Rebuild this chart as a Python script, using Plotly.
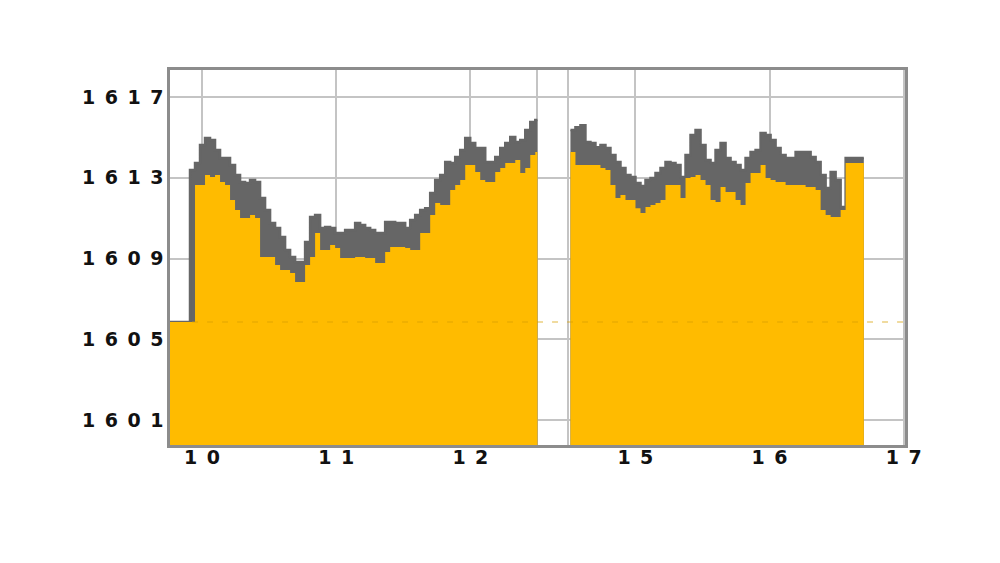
import plotly.graph_objects as go

# ---- data (x in trading-day units: 0 = the "10" tick, 1 day = 1 unit) ----
STEP = 0.0373
LEFT_START = -0.239
LEFT_END = 2.5
RIGHT_START = 2.746
RIGHT_END = 4.933
PREV_CLOSE = 1605.86

high_left = [1605.86, 1605.86, 1605.86, 1605.86, 1613.39, 1613.73, 1614.62, 1614.97, 1614.87, 1614.38,
             1613.98, 1613.98, 1613.63, 1613.14, 1612.79, 1612.74, 1612.89, 1612.79, 1612.00, 1611.41,
             1610.76, 1610.51, 1610.07, 1609.43, 1609.08, 1608.83, 1608.83, 1609.82, 1611.06, 1611.16,
             1610.51, 1610.56, 1610.51, 1610.27, 1610.27, 1610.42, 1610.42, 1610.76, 1610.66, 1610.51,
             1610.42, 1610.27, 1610.27, 1610.81, 1610.81, 1610.76, 1610.76, 1610.51, 1610.91, 1611.16,
             1611.41, 1611.50, 1612.25, 1612.89, 1613.14, 1613.78, 1613.73, 1614.03, 1614.38, 1614.97,
             1614.72, 1614.48, 1614.48, 1613.78, 1613.78, 1614.03, 1614.48, 1614.72, 1615.02, 1614.77,
             1614.87, 1615.37, 1615.76, 1615.86]
low_left = [1605.86, 1605.86, 1605.86, 1605.86, 1605.86, 1612.64, 1612.64, 1613.14, 1613.04, 1613.14,
            1612.79, 1612.64, 1611.90, 1611.41, 1611.01, 1611.01, 1611.16, 1611.01, 1609.08, 1609.08,
            1609.08, 1608.68, 1608.44, 1608.44, 1608.29, 1607.84, 1607.84, 1608.68, 1609.08, 1610.27,
            1609.43, 1609.43, 1609.67, 1609.52, 1609.03, 1609.03, 1609.03, 1609.08, 1609.08, 1609.03,
            1609.03, 1608.78, 1608.78, 1609.33, 1609.57, 1609.57, 1609.57, 1609.52, 1609.43, 1609.43,
            1610.27, 1610.27, 1611.16, 1611.75, 1611.65, 1611.65, 1612.40, 1612.64, 1612.89, 1613.63,
            1613.63, 1613.29, 1612.89, 1612.79, 1612.79, 1613.29, 1613.49, 1613.73, 1613.73, 1613.88,
            1613.24, 1613.49, 1614.13, 1614.28]

high_right = [1615.37, 1615.51, 1615.61, 1614.77, 1614.72, 1614.52, 1614.62, 1614.48, 1614.13, 1613.78,
              1613.49, 1613.14, 1613.04, 1612.74, 1612.59, 1612.89, 1612.99, 1613.24, 1613.49, 1613.78,
              1613.73, 1613.63, 1613.04, 1614.13, 1615.12, 1615.37, 1614.62, 1613.88, 1613.73, 1614.38,
              1614.72, 1613.98, 1613.78, 1613.63, 1613.39, 1613.98, 1614.28, 1614.38, 1615.22, 1615.12,
              1614.87, 1614.48, 1614.13, 1613.98, 1613.98, 1614.28, 1614.28, 1614.28, 1614.03, 1613.78,
              1613.14, 1612.50, 1613.29, 1612.89, 1611.55, 1613.98, 1613.98, 1613.98, 1613.98]
low_right = [1614.28, 1613.63, 1613.63, 1613.63, 1613.63, 1613.63, 1613.49, 1613.39, 1612.64, 1612.00,
             1612.15, 1611.90, 1611.90, 1611.50, 1611.26, 1611.55, 1611.65, 1611.75, 1611.90, 1612.64,
             1612.64, 1612.64, 1612.00, 1612.99, 1613.04, 1613.14, 1612.89, 1612.64, 1611.90, 1611.80,
             1612.54, 1612.30, 1612.30, 1611.90, 1611.65, 1612.74, 1613.24, 1613.24, 1613.63, 1612.99,
             1612.89, 1612.79, 1612.79, 1612.64, 1612.64, 1612.64, 1612.64, 1612.54, 1612.54, 1612.40,
             1611.41, 1611.16, 1611.06, 1611.06, 1611.41, 1613.73, 1613.73, 1613.73, 1613.73]

x_tick_vals = [0, 1, 2, 2.5, 2.73, 3.23, 4.23, 5.23]
x_tick_text = ["10", "11", "12", "", "", "15", "16", "17"]
y_tick_vals = [1601, 1605, 1609, 1613, 1617]

X_RANGE = [-0.239, 5.24]
Y_RANGE = [1599.77, 1618.34]

ORANGE = "#FFBB00"
GRAY = "#666666"
GRID = "#c4c4c4"
FRAME = "#8c8c8c"
EN = "\u2002"


def spaced(s):
    return EN.join(list(s))


def segment(start, end, values):
    xs = [start + i * STEP for i in range(len(values))] + [end]
    ys = list(values) + [values[-1]]
    return xs, ys


fig = go.Figure()

for hi, lo, start, end in [(high_left, low_left, LEFT_START, LEFT_END),
                           (high_right, low_right, RIGHT_START, RIGHT_END)]:
    xh, yh = segment(start, end, hi)
    xl, yl = segment(start, end, lo)
    fig.add_trace(go.Scatter(x=xh, y=yh, mode="lines", line=dict(shape="hv", color=GRAY, width=2.5),
                             fill="tozeroy", fillcolor=GRAY, hoverinfo="skip", showlegend=False))
    fig.add_trace(go.Scatter(x=xl, y=yl, mode="lines", line=dict(shape="hv", color=ORANGE, width=0),
                             fill="tozeroy", fillcolor=ORANGE, hoverinfo="skip", showlegend=False))

fig.add_shape(type="line", xref="paper", x0=0.03, x1=1, yref="y", y0=PREV_CLOSE, y1=PREV_CLOSE,
              line=dict(color="rgba(215,160,0,0.75)", width=1.2, dash="6px,9px"), layer="above")

tick_font = dict(family="DejaVu Sans", size=19, color="#111111", weight="bold")

fig.update_layout(
    width=1000, height=563,
    margin=dict(l=162, r=103, t=62, b=126),
    paper_bgcolor="white", plot_bgcolor="white",
    showlegend=False,
)
fig.update_xaxes(
    range=X_RANGE, tickmode="array", tickvals=x_tick_vals,
    ticktext=[spaced(t) for t in x_tick_text],
    showgrid=True, gridcolor=GRID, gridwidth=2, zeroline=False,
    showline=True, linecolor=FRAME, linewidth=2.5, mirror=True,
    ticks="", tickfont=tick_font, ticklabelstandoff=-7,
)
fig.update_yaxes(
    range=Y_RANGE, tickmode="array", tickvals=y_tick_vals,
    ticktext=[spaced(str(v)) for v in y_tick_vals],
    showgrid=True, gridcolor=GRID, gridwidth=2, zeroline=False,
    showline=True, linecolor=FRAME, linewidth=2.5, mirror=True,
    ticks="", tickfont=tick_font, ticklabelstandoff=0,
)

fig.write_html("out.html")
